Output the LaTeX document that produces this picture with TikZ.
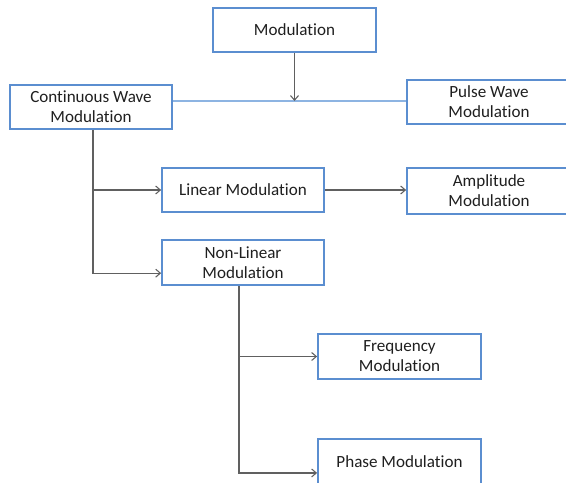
\documentclass[tikz,border=0pt]{standalone}
\usepackage{fontspec}
\setmainfont{Carlito}[Ligatures={NoCommon,NoDiscretionary,NoRare}]
\usetikzlibrary{arrows.meta}
\definecolor{boxblue}{HTML}{5B8ED0}
\definecolor{lightblue}{HTML}{8DB4E2}
\definecolor{conn}{HTML}{606060}
\tikzset{
  mbox/.style={draw=boxblue, line width=1.3pt, fill=white, align=center, inner sep=0pt,
    font=\fontsize{12.8}{15}\selectfont, text=black!88},
  arr/.style={draw=conn, line width=0.8pt, -{Straight Barb[length=3.5pt,width=6pt]}},
  lightline/.style={draw=lightblue, line width=1.2pt},
}
\begin{document}
\begin{tikzpicture}[x=0.75pt,y=-0.75pt]
\useasboundingbox (0,0) rectangle (566,482);
\clip (0,0) rectangle (566,482);
\node[mbox, minimum width=122.3pt, minimum height=33pt] (mod) at (294.5,30) {Modulation};
\node[mbox, minimum width=121.5pt, minimum height=33pt] (cw) at (91,107) {Continuous Wave\\Modulation};
\node[mbox, minimum width=123pt, minimum height=33pt] (pulse) at (489,102) {Pulse Wave\\Modulation};
\node[mbox, minimum width=121.5pt, minimum height=33pt] (lin) at (243,190) {Linear Modulation};
\node[mbox, minimum width=123pt, minimum height=34pt] (amp) at (489,191) {Amplitude\\Modulation};
\node[mbox, minimum width=121.5pt, minimum height=34pt] (nonlin) at (243,262.5) {Non-Linear\\Modulation};
\node[mbox, minimum width=122.3pt, minimum height=34pt] (freq) at (399.5,356.5) {Frequency\\Modulation};
\node[mbox, minimum width=122.3pt, minimum height=34pt] (phase) at (399.5,461.5) {Phase Modulation};
\coordinate (j) at (294.5,101);
\draw[lightline] (cw.east |- j) -- (pulse.west |- j);
\draw[arr] (mod.south) -- (j);
\draw[arr] ([xshift=1.5pt]cw.south) |- (lin.west);
\draw[arr] ([xshift=1.5pt]cw.south) |- ([yshift=-8pt]nonlin.west);
\draw[arr] (lin.east) -- (lin.east -| amp.west);
\draw[arr] ([xshift=-3pt]nonlin.south) |- (freq.west);
\draw[arr] ([xshift=-3pt]nonlin.south) |- ([yshift=-8.6pt]phase.west);
\end{tikzpicture}
\end{document}
